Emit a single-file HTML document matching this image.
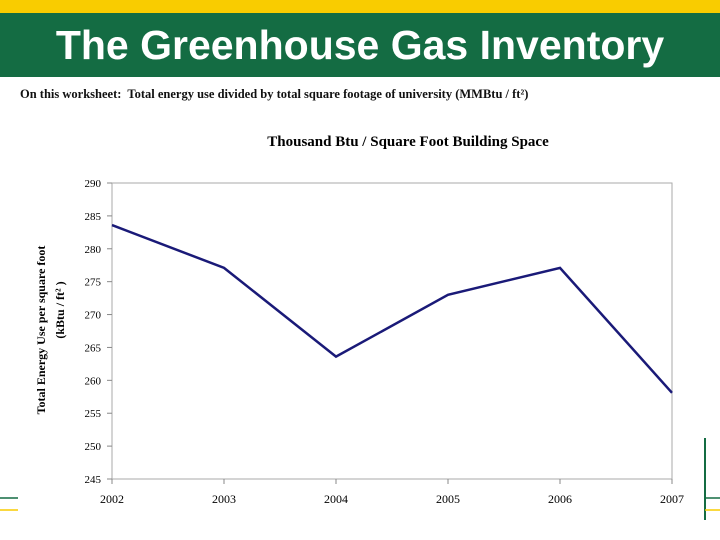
<!DOCTYPE html>
<html><head><meta charset="utf-8"><style>
body{margin:0;width:720px;height:540px;background:#fff;position:relative;overflow:hidden;font-family:"Liberation Serif",serif}
</style></head><body>
<div style="position:absolute;left:0;top:0;width:720px;height:13px;background:#f9cc00"></div>
<div style="position:absolute;left:0;top:13px;width:720px;height:64px;background:#146c43"></div>
<div style="position:absolute;left:0;top:16px;width:720px;text-align:center;color:#fff;font:bold 41px 'Liberation Sans',sans-serif;line-height:58px">The Greenhouse Gas Inventory</div>
<div style="position:absolute;left:20px;top:87px;font-size:12.5px;font-weight:bold;color:#111">On this worksheet:&nbsp; Total energy use divided by total square footage of university (MMBtu / ft²)</div>
<svg width="720" height="540" style="position:absolute;left:0;top:0" id="svg">
<text x="408" y="146" text-anchor="middle" font-size="15" font-weight="bold" font-family="Liberation Serif">Thousand Btu / Square Foot Building Space</text>
<text transform="translate(45,330) rotate(-90)" text-anchor="middle" font-size="12" font-weight="bold" font-family="Liberation Serif">Total Energy Use per square foot</text>
<text transform="translate(64,310) rotate(-90)" text-anchor="middle" font-size="12" font-weight="bold" font-family="Liberation Serif">(kBtu / ft² )</text>
<rect x="112" y="183" width="560" height="296" fill="none" stroke="#aaa"/>
<g id="g"></g>
<line x1="0" y1="498" x2="18" y2="498" stroke="#146c43" stroke-width="1.5"/>
<line x1="0" y1="510" x2="18" y2="510" stroke="#f9cc00" stroke-width="1.5"/>
<line x1="705" y1="438" x2="705" y2="520" stroke="#146c43" stroke-width="2"/>
<line x1="705" y1="498" x2="720" y2="498" stroke="#146c43" stroke-width="1.5"/>
<line x1="705" y1="510" x2="720" y2="510" stroke="#f9cc00" stroke-width="1.5"/>
</svg>
<script>
const years=["2002","2003","2004","2005","2006","2007"];
const values=[283.6,277.1,263.6,273.0,277.1,258.1];
const yTicks=[245,250,255,260,265,270,275,280,285,290];
const NS="http://www.w3.org/2000/svg";
const g=document.getElementById('g');
const X=i=>112+i*112, Y=v=>479-(v-245)*296/45;
function mk(t,a){const e=document.createElementNS(NS,t);for(const k in a)e.setAttribute(k,a[k]);g.appendChild(e);return e;}
yTicks.forEach(v=>{
 const l=mk('line',{x1:107,x2:112,y1:Y(v),y2:Y(v),stroke:'#888'});
 
 
 const t=mk('text',{x:101,y:Y(v)+4,'text-anchor':'end','font-size':11,'font-family':'Liberation Serif'});
 t.textContent=v;
 
 
});
years.forEach((y,i)=>{
 const l=mk('line',{x1:X(i),x2:X(i),y1:479,y2:484,stroke:'#888'});
 
 
 const t=mk('text',{x:X(i),y:503,'text-anchor':'middle','font-size':12,'font-family':'Liberation Serif'});
 t.textContent=y;
 
 
});
const p=mk('polyline',{points:values.map((v,i)=>X(i)+','+Y(v)).join(' '),fill:'none',stroke:'#1a1a78','stroke-width':2.5});


</script>
</body></html>
